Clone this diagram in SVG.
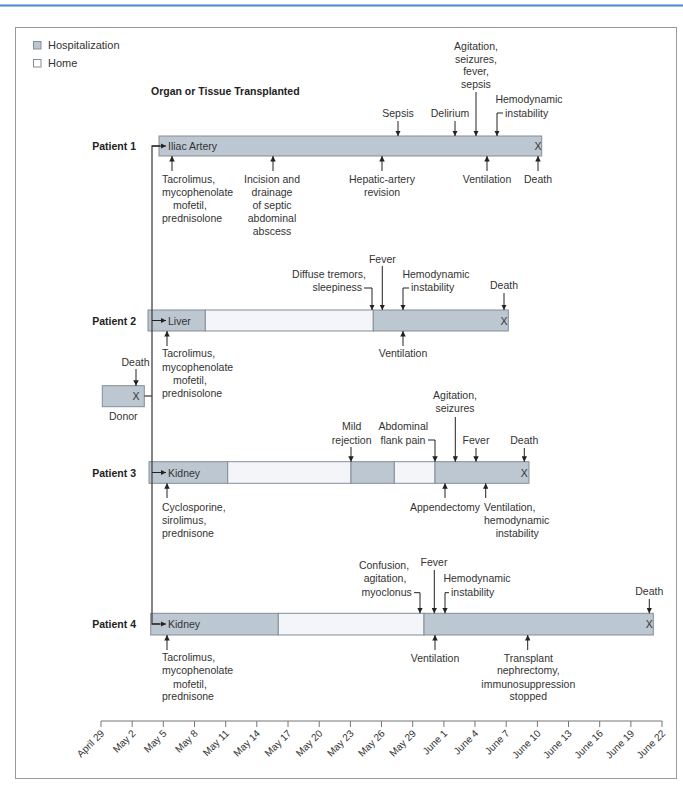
<svg xmlns="http://www.w3.org/2000/svg" width="683" height="796" viewBox="0 0 683 796">
<style>
.t{font-family:"Liberation Sans",Arial,sans-serif;font-size:10.5px;fill:#333}
.m{text-anchor:middle}
.e{text-anchor:end}
.b{font-weight:bold;fill:#222}
.ax{font-family:"Liberation Sans",Arial,sans-serif;font-size:10px;fill:#333;text-anchor:end}
.h{fill:#bcc7d2;stroke:#858d96;stroke-width:1}
.w{fill:#f3f5f8;stroke:#858d96;stroke-width:1}
.c{fill:none;stroke:#222;stroke-width:1;marker-end:url(#ah)}
.ln{fill:none;stroke:#444;stroke-width:1.3}
.tk{stroke:#777;stroke-width:1}
</style>
<defs>
<marker id="ah" viewBox="0 0 6 6" refX="6" refY="3" markerWidth="5.5" markerHeight="5.5" orient="auto" markerUnits="userSpaceOnUse"><path d="M0,0 L6,3 L0,6 z" fill="#222"/></marker>
</defs>
<rect width="683" height="796" fill="#fff"/>
<line x1="0" y1="5.5" x2="683" y2="5.5" stroke="#4a86c8" stroke-width="2"/>
<rect x="15.5" y="27.5" width="661" height="751" fill="#fff" stroke="#9a9a9a"/>

<g id="legend">
<rect class="h" x="33.5" y="41.5" width="7.5" height="7.5"/>
<text class="t" x="48" y="49" style="font-size:11px">Hospitalization</text>
<rect class="w" x="33.5" y="59.5" width="7.5" height="7.5" style="fill:#fff"/>
<text class="t" x="48" y="66.5" style="font-size:11px">Home</text>
<text class="t b" x="151" y="94.5">Organ or Tissue Transplanted</text>
</g>

<g id="patient1">
<text class="t b e" x="136" y="150">Patient 1</text>
<rect class="h" x="159" y="136" width="382.7" height="20"/>
<text class="t" x="168" y="150">Iliac Artery</text>
<text class="t m" x="538" y="150">X</text>
<text class="t m" x="398" y="116.5">Sepsis</text>
<line class="c" x1="398" y1="121" x2="398" y2="136"/>
<text class="t m" x="450" y="116.5">Delirium</text>
<line class="c" x1="455" y1="121" x2="455" y2="136"/>
<text class="t m" x="476" y="50">Agitation,</text>
<text class="t m" x="476" y="62.7">seizures,</text>
<text class="t m" x="476" y="75.3">fever,</text>
<text class="t m" x="476" y="88">sepsis</text>
<line class="c" x1="476" y1="92" x2="476" y2="136"/>
<text class="t m" x="529" y="103">Hemodynamic</text>
<text class="t" x="505" y="116.5">instability</text>
<path class="c" d="M503,113 H497 V136"/>
<line class="c" x1="172" y1="171" x2="172" y2="156"/>
<text class="t" x="162" y="182.5">Tacrolimus,</text>
<text class="t" x="162" y="195.8">mycophenolate</text>
<text class="t" x="173" y="208.8">mofetil,</text>
<text class="t" x="162" y="221.8">prednisolone</text>
<line class="c" x1="273" y1="171" x2="273" y2="156"/>
<text class="t m" x="272" y="182.5">Incision and</text>
<text class="t m" x="272" y="195.8">drainage</text>
<text class="t m" x="272" y="208.8">of septic</text>
<text class="t m" x="272" y="221.8">abdominal</text>
<text class="t m" x="272" y="235">abscess</text>
<line class="c" x1="382" y1="171" x2="382" y2="156"/>
<text class="t m" x="382" y="182.5">Hepatic-artery</text>
<text class="t m" x="382" y="195.8">revision</text>
<line class="c" x1="487" y1="171" x2="487" y2="156"/>
<text class="t m" x="487" y="182.5">Ventilation</text>
<line class="c" x1="538" y1="171" x2="538" y2="156"/>
<text class="t m" x="538" y="182.5">Death</text>
</g>

<g id="patient2">
<text class="t b e" x="136" y="324.5">Patient 2</text>
<rect class="h" x="148" y="310" width="57.3" height="21"/>
<rect class="w" x="205.3" y="310" width="168" height="21"/>
<rect class="h" x="373.3" y="310" width="135" height="21"/>
<text class="t" x="168" y="324.5">Liver</text>
<text class="t m" x="504" y="324.5">X</text>
<text class="t e" x="366" y="278">Diffuse tremors,</text>
<text class="t e" x="362" y="291.2">sleepiness</text>
<path class="c" d="M364,288 H372 V310"/>
<text class="t m" x="382.3" y="263">Fever</text>
<line class="c" x1="382.3" y1="266" x2="382.3" y2="310"/>
<text class="t m" x="436" y="278">Hemodynamic</text>
<text class="t" x="411" y="291.2">instability</text>
<path class="c" d="M409,288 H403 V310"/>
<text class="t m" x="504" y="289">Death</text>
<line class="c" x1="504" y1="293" x2="504" y2="310"/>
<line class="c" x1="167" y1="346" x2="167" y2="331"/>
<text class="t" x="162" y="357">Tacrolimus,</text>
<text class="t" x="162" y="370.5">mycophenolate</text>
<text class="t" x="173" y="384">mofetil,</text>
<text class="t" x="162" y="397">prednisolone</text>
<line class="c" x1="403" y1="346" x2="403" y2="331"/>
<text class="t m" x="403" y="357">Ventilation</text>
</g>

<g id="donor">
<rect class="h" x="102.3" y="385.7" width="42" height="21"/>
<text class="t m" x="136" y="400">X</text>
<text class="t m" x="135.5" y="366">Death</text>
<line class="c" x1="136" y1="369" x2="136" y2="385.7"/>
<text class="t m" x="123.3" y="419.5">Donor</text>
</g>

<g id="patient3">
<text class="t b e" x="136" y="476.5">Patient 3</text>
<rect class="h" x="149" y="461.7" width="78.7" height="21.6"/>
<rect class="w" x="227.7" y="461.7" width="123.3" height="21.6"/>
<rect class="h" x="351" y="461.7" width="43.3" height="21.6"/>
<rect class="w" x="394.3" y="461.7" width="40.7" height="21.6"/>
<rect class="h" x="435" y="461.7" width="94" height="21.6"/>
<text class="t" x="168" y="476.5">Kidney</text>
<text class="t m" x="524.3" y="476.5">X</text>
<text class="t m" x="351.7" y="429.5">Mild</text>
<text class="t m" x="351.7" y="443.7">rejection</text>
<line class="c" x1="351" y1="447" x2="351" y2="461.7"/>
<text class="t m" x="403.3" y="429.5">Abdominal</text>
<text class="t m" x="403" y="443.7">flank pain</text>
<path class="c" d="M428,440 H435 V461.7"/>
<text class="t m" x="455" y="398.7">Agitation,</text>
<text class="t m" x="455" y="412">seizures</text>
<line class="c" x1="455.3" y1="417" x2="455.3" y2="461.7"/>
<text class="t m" x="476" y="443.7">Fever</text>
<line class="c" x1="476" y1="448" x2="476" y2="461.7"/>
<text class="t m" x="524.3" y="443.7">Death</text>
<line class="c" x1="524.3" y1="448" x2="524.3" y2="461.7"/>
<line class="c" x1="167" y1="498" x2="167" y2="483.3"/>
<text class="t" x="162" y="510.5">Cyclosporine,</text>
<text class="t" x="162" y="523.5">sirolimus,</text>
<text class="t" x="162" y="536.5">prednisone</text>
<line class="c" x1="445" y1="498" x2="445" y2="483.3"/>
<text class="t m" x="445" y="510.5">Appendectomy</text>
<line class="c" x1="485.7" y1="498" x2="485.7" y2="483.3"/>
<text class="t" x="484" y="510.5">Ventilation,</text>
<text class="t" x="484" y="523.7">hemodynamic</text>
<text class="t" x="495.7" y="536.5">instability</text>
</g>

<g id="patient4">
<text class="t b e" x="136" y="628">Patient 4</text>
<rect class="h" x="150.7" y="613.3" width="127.6" height="21.7"/>
<rect class="w" x="278.3" y="613.3" width="145.7" height="21.7"/>
<rect class="h" x="424" y="613.3" width="229.3" height="21.7"/>
<text class="t" x="168" y="628">Kidney</text>
<text class="t m" x="649.3" y="628">X</text>
<text class="t m" x="384" y="568.7">Confusion,</text>
<text class="t m" x="385" y="582">agitation,</text>
<text class="t m" x="386.7" y="596.3">myoclonus</text>
<path class="c" d="M414,592.7 H420 V613.3"/>
<text class="t m" x="434" y="566.3">Fever</text>
<line class="c" x1="434.3" y1="570" x2="434.3" y2="613.3"/>
<text class="t m" x="477" y="582">Hemodynamic</text>
<text class="t" x="451" y="596.3">instability</text>
<path class="c" d="M449,592.7 H445 V613.3"/>
<text class="t m" x="649.3" y="595.3">Death</text>
<line class="c" x1="649.3" y1="599" x2="649.3" y2="613.3"/>
<line class="c" x1="167" y1="650" x2="167" y2="635"/>
<text class="t" x="162" y="661">Tacrolimus,</text>
<text class="t" x="162" y="674.4">mycophenolate</text>
<text class="t" x="173" y="687.7">mofetil,</text>
<text class="t" x="162" y="700.4">prednisone</text>
<line class="c" x1="435" y1="650" x2="435" y2="635"/>
<text class="t m" x="435" y="662">Ventilation</text>
<line class="c" x1="527.7" y1="650" x2="527.7" y2="635"/>
<text class="t m" x="528.3" y="662">Transplant</text>
<text class="t m" x="528.3" y="674.4">nephrectomy,</text>
<text class="t m" x="528.3" y="687.7">immunosuppression</text>
<text class="t m" x="528.3" y="700.4">stopped</text>
</g>

<g id="connectors">
<path class="ln" d="M160,146 H152 V624 H160"/>
<line class="c" x1="152" y1="146" x2="166" y2="146"/>
<line class="c" x1="152" y1="320.5" x2="166" y2="320.5"/>
<line class="c" x1="152" y1="472.5" x2="166" y2="472.5"/>
<line class="c" x1="152" y1="624" x2="166" y2="624"/>
<line class="ln" x1="144.3" y1="396" x2="152" y2="396"/>
</g>

<g id="axis">
<line class="tk" x1="101" y1="721" x2="662" y2="721"/>
<path class="tk" fill="none" d="M101,721v6M132.2,721v6M163.3,721v6M194.5,721v6M225.7,721v6M256.8,721v6M288,721v6M319.2,721v6M350.4,721v6M381.5,721v6M412.7,721v6M443.9,721v6M475,721v6M506.2,721v6M537.4,721v6M568.5,721v6M599.7,721v6M630.9,721v6M662,721v6"/>
<text class="ax" transform="translate(105,734) rotate(-45)">April 29</text>
<text class="ax" transform="translate(136.2,734) rotate(-45)">May 2</text>
<text class="ax" transform="translate(167.3,734) rotate(-45)">May 5</text>
<text class="ax" transform="translate(198.5,734) rotate(-45)">May 8</text>
<text class="ax" transform="translate(229.7,734) rotate(-45)">May 11</text>
<text class="ax" transform="translate(260.8,734) rotate(-45)">May 14</text>
<text class="ax" transform="translate(292,734) rotate(-45)">May 17</text>
<text class="ax" transform="translate(323.2,734) rotate(-45)">May 20</text>
<text class="ax" transform="translate(354.4,734) rotate(-45)">May 23</text>
<text class="ax" transform="translate(385.5,734) rotate(-45)">May 26</text>
<text class="ax" transform="translate(416.7,734) rotate(-45)">May 29</text>
<text class="ax" transform="translate(447.9,734) rotate(-45)">June 1</text>
<text class="ax" transform="translate(479,734) rotate(-45)">June 4</text>
<text class="ax" transform="translate(510.2,734) rotate(-45)">June 7</text>
<text class="ax" transform="translate(541.4,734) rotate(-45)">June 10</text>
<text class="ax" transform="translate(572.5,734) rotate(-45)">June 13</text>
<text class="ax" transform="translate(603.7,734) rotate(-45)">June 16</text>
<text class="ax" transform="translate(634.9,734) rotate(-45)">June 19</text>
<text class="ax" transform="translate(666,734) rotate(-45)">June 22</text>
</g>
</svg>
